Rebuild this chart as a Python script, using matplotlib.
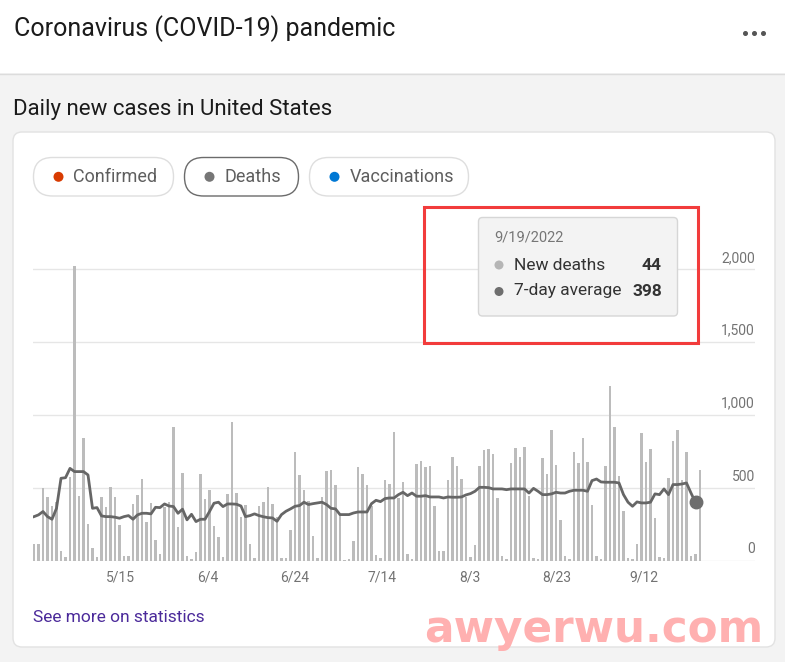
import numpy as np
import matplotlib.pyplot as plt
from matplotlib.patches import FancyBboxPatch, Rectangle, Circle

plt.rcParams['font.family'] = ['Roboto', 'DejaVu Sans']

# daily new deaths, 4/25/2022 .. 9/20/2022
new_deaths = [
    112, 112, 498, 434, 374, 400, 66, 23, 575, 2020,
    443, 838, 251, 84, 27, 438, 365, 507, 438, 242,
    32, 32, 386, 450, 557, 267, 397, 142, 46, 370,
    400, 918, 228, 603, 32, 9, 59, 591, 425, 484,
    237, 160, 23, 457, 952, 461, 301, 381, 116, 16,
    374, 400, 507, 390, 300, 18, 15, 212, 742, 589,
    486, 406, 167, 18, 436, 612, 619, 520, 315, 5,
    7, 132, 639, 596, 520, 372, 41, 18, 550, 527,
    879, 429, 536, 48, 11, 660, 685, 644, 651, 372,
    62, 68, 555, 708, 648, 557, 438, 25, 103, 651,
    760, 767, 733, 427, 30, 11, 669, 772, 710, 776,
    445, 18, 11, 705, 594, 897, 657, 276, 30, 11,
    744, 667, 838, 676, 384, 34, 7, 651, 1194, 913,
    582, 338, 18, 7, 110, 877, 678, 767, 290, 27,
    18, 568, 817, 897, 550, 747, 30, 44, 623,
]

# 7-day average, up to 9/19/2022
avg_7day = [
    301, 313, 336, 301, 283, 358, 564, 568, 632, 610,
    610, 610, 587, 358, 363, 306, 301, 301, 297, 290,
    301, 308, 283, 313, 324, 324, 320, 365, 363, 388,
    374, 370, 324, 352, 279, 317, 267, 283, 283, 336,
    393, 400, 370, 388, 388, 386, 374, 301, 308, 320,
    308, 300, 294, 292, 269, 315, 338, 354, 372, 377,
    400, 384, 390, 395, 400, 384, 358, 354, 315, 315,
    315, 326, 333, 333, 333, 390, 413, 404, 425, 429,
    429, 452, 468, 445, 463, 441, 441, 445, 436, 436,
    436, 429, 436, 434, 434, 436, 450, 459, 475, 502,
    502, 500, 491, 491, 491, 486, 491, 491, 491, 491,
    463, 495, 475, 452, 452, 457, 468, 463, 463, 475,
    482, 482, 482, 475, 548, 559, 539, 537, 537, 537,
    532, 452, 400, 372, 402, 395, 395, 400, 457, 452,
    491, 452, 521, 521, 525, 532, 463, 398,
]

x_labels = ['5/15', '6/4', '6/24', '7/14', '8/3', '8/23', '9/12']
y_ticks = [0, 500, 1000, 1500, 2000]
buttons = ['Confirmed', 'Deaths', 'Vaccinations']
button_colors = ['#d83b01', '#767676', '#0078d4']
hover_date = '9/19/2022'

W, H = 785, 662
fig = plt.figure(figsize=(W / 100, H / 100), dpi=100)
fig.patch.set_facecolor('#f3f3f3')

# background layer in pixel coords
bg = fig.add_axes([0, 0, 1, 1])
bg.set_xlim(0, W)
bg.set_ylim(H, 0)
bg.axis('off')
bg.add_patch(Rectangle((0, 0), W, 73, color='white', lw=0))
bg.plot([0, W], [73.5, 73.5], color='#dcdcdc', lw=1)
bg.text(14, 36, 'Coronavirus (COVID-19) pandemic', fontsize=18, color='#1b1b1b', va='baseline')
bg.plot([745, 754, 763], [32.5, 32.5, 32.5], 'o', ms=2.6, color='#555555')

bg.add_patch(FancyBboxPatch((13, 132), 762, 515, boxstyle='round,pad=0,rounding_size=9',
                            fc='white', ec='#e2e2e2', lw=1))
bg.text(13, 115, 'Daily new cases in United States', fontsize=16, color='#1b1b1b', va='baseline')

# pill buttons
pill_x = [33.5, 184.5, 309.5]
pill_w = [140, 114, 159]
for name, col, px, pw in zip(buttons, button_colors, pill_x, pill_w):
    selected = name == 'Deaths'
    bg.add_patch(FancyBboxPatch((px, 157.5), pw, 38.5, boxstyle='round,pad=0,rounding_size=19',
                                fc='white', ec='#6b6b6b' if selected else '#dedede', lw=1))
    bg.add_patch(Circle((px + 25, 176.8), 5, color=col, lw=0))
    bg.text(px + 40, 177, name, fontsize=13, color='#5e5e5e', va='center')

bg.text(33, 617, 'See more on statistics', fontsize=12.5, color='#4b2a9a', va='center')

# chart
x0_px, x1_px, y0_px, y1_px = 33, 755, 560.5, 230
px_per_day = 4.5
px_per_unit = 0.14575
ax = fig.add_axes([x0_px / W, (H - y0_px) / H, (x1_px - x0_px) / W, (y0_px - y1_px) / H])
ax.patch.set_alpha(0)
ax.set_xlim((x0_px - 34) / px_per_day, (x1_px - 34) / px_per_day)
ax.set_ylim(0, (y0_px - y1_px) / px_per_unit)

days = np.arange(len(new_deaths))
for v in y_ticks:
    ax.axhline(v, color='#e6e6e6', lw=1, zorder=1)
    ax.annotate(f'{v:,}', xy=(1, v), xycoords=('axes fraction', 'data'), xytext=(0, 8),
                textcoords='offset points', ha='right', va='center', fontsize=10, color='#737373')
ax.bar(days, new_deaths, width=0.62, color='#bcbcbc', zorder=2)
ax.plot(days[:len(avg_7day)], avg_7day, color='#666666', lw=2, zorder=3)
ax.plot(days[len(avg_7day) - 1], avg_7day[-1], 'o', ms=9, color='#6e6e6e', zorder=4)

tick_pos = 19.1 + 19.42 * np.arange(len(x_labels))
ax.set_xticks(tick_pos)
ax.set_xticklabels(x_labels, fontsize=10, color='#737373')
ax.tick_params(axis='x', length=0, pad=7)
ax.set_yticks([])
for s in ax.spines.values():
    s.set_visible(False)

# foreground: tooltip, highlight box, watermark
fg = fig.add_axes([0, 0, 1, 1])
fg.set_xlim(0, W)
fg.set_ylim(H, 0)
fg.axis('off')
fg.add_patch(FancyBboxPatch((478.5, 217.5), 199, 98.5, boxstyle='round,pad=0,rounding_size=4',
                            fc='#f3f3f3', ec='#d6d6d6', lw=1))
fg.text(494, 238, hover_date, fontsize=10.5, color='#767676', va='center')
fg.add_patch(Circle((499, 265), 4.5, color='#b5b5b5', lw=0))
fg.text(514, 265, 'New deaths', fontsize=12.5, color='#333333', va='center')
fg.text(662, 265, f'{new_deaths[len(avg_7day) - 1]}', fontsize=12.5, color='#333333',
        fontweight='bold', va='center', ha='right')
fg.add_patch(Circle((499, 291.5), 4.5, color='#6e6e6e', lw=0))
fg.text(514, 291, '7-day average', fontsize=12.5, color='#333333', va='center')
fg.text(662, 291, f'{avg_7day[-1]}', fontsize=12.5, color='#333333',
        fontweight='bold', va='center', ha='right')
fg.add_patch(Rectangle((424, 206.5), 273.5, 136, fill=False, ec='#f23c3c', lw=2.2))
fg.text(424, 642, 'awyerwu.com', fontsize=31.5, color='#ffb0b0', va='baseline',
        fontweight='bold', family=['DejaVu Sans'])

fig.savefig('out.png', dpi=100, facecolor=fig.get_facecolor())
